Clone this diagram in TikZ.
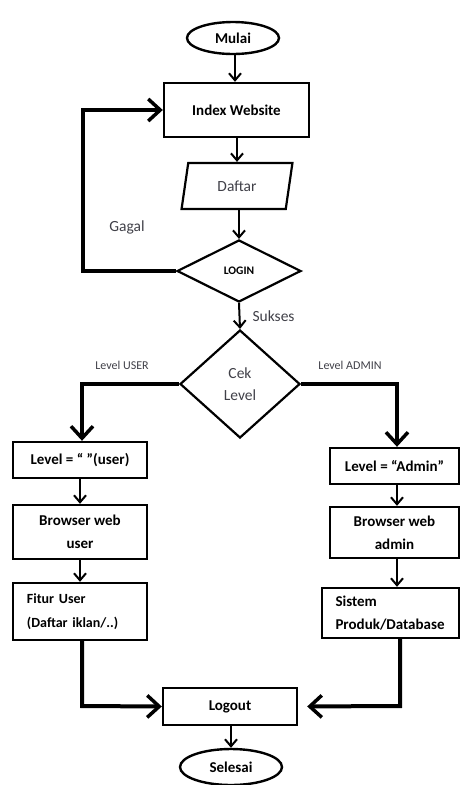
\documentclass[tikz,border=0pt]{standalone}
\usepackage{fontspec}
\setmainfont{Carlito}
\usepackage{xcolor}
\usepackage{tikz}
\usetikzlibrary{shapes.geometric}
\usetikzlibrary{arrows.meta}

\definecolor{txtgray}{RGB}{64,64,72}

\begin{document}
\begin{tikzpicture}[x=1pt,y=-1pt,
		boxnode/.style={shape=rectangle,draw=black,line width=2.4pt,inner sep=2pt,font=\fontsize{15}{23}\selectfont\bfseries,align=center},
		endnode/.style={shape=ellipse,draw=black,line width=2.4pt,inner sep=0pt,font=\fontsize{15}{18}\selectfont\bfseries},
		decnode/.style={shape=diamond,draw=black,line width=2.2pt,inner sep=0pt,align=center},
		thinarrow/.style={-{Straight Barb[length=7pt,width=12pt,line width=2pt]},line width=2pt},
		thickarrow/.style={-{Straight Barb[length=12pt,width=22pt,line width=3.5pt]},line width=4pt},
		note/.style={text=txtgray,font=\fontsize{15.5}{22}\selectfont}]
	\useasboundingbox (0,0) rectangle (461,785);

	\node[endnode, minimum width=92pt, minimum height=32pt] (mulai) at (233,38) {Mulai};
	\node[boxnode, minimum width=145pt, minimum height=54pt] (index) at (236.5,110) {Index Website};
	\node[shape=trapezium, trapezium left angle=76, trapezium right angle=104, trapezium stretches=true, draw=black, line width=2.2pt,
		minimum width=111pt, minimum height=46pt, inner sep=0pt, text=txtgray, font=\fontsize{15.5}{18}\selectfont] (daftar) at (237,186) {Daftar};
	\node[decnode, minimum width=124pt, minimum height=62pt, font=\fontsize{11.5}{14}\selectfont\bfseries] (login) at (239,271) {LOGIN};
	\node[decnode, minimum width=120pt, minimum height=108pt, text=txtgray, font=\fontsize{15.5}{22}\selectfont] (cek) at (240,384) {Cek\\Level};

	\node[boxnode, minimum width=134pt, minimum height=36pt] (lvuser) at (80,460) {Level = “ ”(user)};
	\node[boxnode, minimum width=134pt, minimum height=54pt] (bruser) at (80,532) {Browser web\\user};
	\node[boxnode, minimum width=134pt, minimum height=57pt, align=left, text width=106pt, font=\fontsize{14}{24}\selectfont\bfseries] (ftuser) at (80,611.5) {Fitur User\\(Daftar iklan/..)};

	\node[boxnode, minimum width=129pt, minimum height=36pt] (lvadmin) at (394.5,466) {Level = “Admin”};
	\node[boxnode, minimum width=129pt, minimum height=51pt] (bradmin) at (394.5,532.5) {Browser web\\admin};
	\node[boxnode, minimum width=137pt, minimum height=50pt, align=left, text width=110pt] (sistem) at (390.5,613) {Sistem\\Produk/Database};

	\node[boxnode, minimum width=134pt, minimum height=37pt] (logout) at (230,706.5) {Logout};
	\node[endnode, minimum width=102pt, minimum height=36pt] (selesai) at (231,767) {Selesai};

	%% labels
	\node[note] (gagal) at (127,227) {Gagal};
	\node[note, anchor=west] (sukses) at (249,316) {Sukses};
	\node[note, font=\fontsize{12}{14}\selectfont] (lbuser) at (122,365) {Level USER};
	\node[note, font=\fontsize{12}{14}\selectfont] (lbadmin) at (350,365) {Level ADMIN};

	%% corners
	\coordinate (cl) at (83,271);
	\coordinate (cu) at (82,384);
	\coordinate (ca) at (397,384);
	\coordinate (fl) at (82,706);
	\coordinate (fr) at (400,706);

	%% lines
	\draw[thinarrow] (mulai.south -| 235,0) -- (index.north -| 235,0);
	\draw[thinarrow] (index.south -| 237,0) -- (daftar.north -| 237,0);
	\draw[thinarrow] (daftar.south -| 239,0) -- (login.north);
	\draw[thinarrow] (login.south) -- (cek.north);
	\draw[thickarrow] (login.west) -- (cl) |- (index.west);
	\draw[thickarrow] (cek.west) -- (cu) -- (lvuser.north -| cu);
	\draw[thickarrow] (cek.east) -- (ca) -- (lvadmin.north -| ca);
	\draw[thinarrow] (lvuser) -- (bruser);
	\draw[thinarrow] (bruser) -- (ftuser);
	\draw[thinarrow] (lvadmin.south -| ca) -- (bradmin.north -| ca);
	\draw[thinarrow] (bradmin.south -| ca) -- (sistem.north -| ca);
	\draw[thickarrow] (ftuser.south -| fl) -- (fl) -- (logout.west);
	\draw[thickarrow, shorten >=9pt] (sistem.south -| fr) -- (fr) -- (logout.east);
	\draw[thinarrow] (logout.south -| selesai) -- (selesai.north);
\end{tikzpicture}
\end{document}
